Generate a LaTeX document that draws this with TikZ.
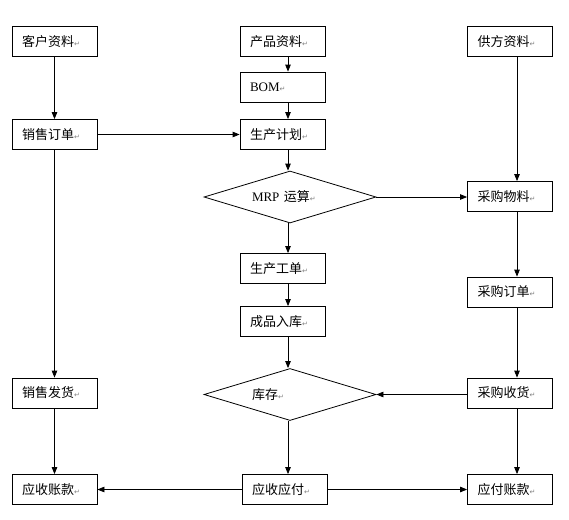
\documentclass[tikz,border=0pt]{standalone}
\usepackage{fontspec}
\setmainfont{Liberation Serif}
\newfontfamily\cjk{Noto Sans CJK SC}
\newfontfamily\symfont{DejaVu Sans}
\usetikzlibrary{arrows.meta,shapes.geometric}
\newcommand\ret{{\symfont\fontsize{7}{7}\selectfont\color{gray}↵}}
\tikzset{
  box/.style={draw, line width=0.8pt, minimum height=30pt, text width=65pt,
    inner xsep=10pt, inner ysep=0pt, align=left,
    font=\cjk\fontsize{13}{15}\selectfont},
  diam/.style={draw, diamond, line width=0.8pt, shape aspect=3.3,
    minimum width=172pt, minimum height=52pt, inner sep=0pt,
    text width=76pt, align=left, font=\cjk\fontsize{13}{15}\selectfont},
  flow/.style={->, line width=0.8pt}
}
\begin{document}
\begin{tikzpicture}[x=1pt,y=-1pt,>={Triangle[length=7pt,width=5.5pt]}]
\useasboundingbox[fill=white] (0,0) rectangle (569,519);
% left column
\node[box] (cust) at (54.5,41.5) {客户资料\ret};
\node[box] (sorder) at (54.5,134.5) {销售订单\ret};
\node[box] (sship) at (54.5,393) {销售发货\ret};
\node[box] (arec) at (54.5,489.5) {应收账款\ret};
% middle column
\node[box] (prod) at (282.5,41.5) {产品资料\ret};
\node[box] (bom) at (282.5,87) {{\rmfamily BOM}\ret};
\node[box] (plan) at (282.5,134.5) {生产计划\ret};
\node[diam] (mrp) at (290,197) {{\rmfamily MRP} 运算\ret};
\node[box] (wo) at (282.5,268.5) {生产工单\ret};
\node[box] (fin) at (282.5,321.5) {成品入库\ret};
\node[diam] (stock) at (290,394.5) {库存\ret};
\node[box] (arap) at (284.5,489.5) {应收应付\ret};
% right column
\node[box] (supp) at (510,41.5) {供方资料\ret};
\node[box] (pmat) at (510,196.5) {采购物料\ret};
\node[box] (porder) at (510,292) {采购订单\ret};
\node[box] (precv) at (510,393) {采购收货\ret};
\node[box] (apay) at (510,489.5) {应付账款\ret};
\coordinate (cx) at (288,0);
\coordinate (rx) at (517,0);
% connectors
\draw[flow] (cust) -- (sorder);
\draw[flow] (sorder) -- (sship);
\draw[flow] (sship) -- (arec);
\draw[flow] (sorder) -- (plan);
\draw[flow] (prod.south -| cx) -- (bom.north -| cx);
\draw[flow] (bom.south -| cx) -- (plan.north -| cx);
\draw[flow] (plan.south -| cx) -- (mrp.north -| cx);
\draw[flow] (mrp.south -| cx) -- (wo.north -| cx);
\draw[flow] (wo.south -| cx) -- (fin.north -| cx);
\draw[flow] (fin.south -| cx) -- (stock.north -| cx);
\draw[flow] (stock.south -| cx) -- (arap.north -| cx);
\draw[flow] (mrp.east) -- (pmat.west |- mrp.east);
\draw[flow] (supp.south -| rx) -- (pmat.north -| rx);
\draw[flow] (pmat.south -| rx) -- (porder.north -| rx);
\draw[flow] (porder.south -| rx) -- (precv.north -| rx);
\draw[flow] (precv.south -| rx) -- (apay.north -| rx);
\draw[flow] (precv.west |- stock.east) -- (stock.east);
\draw[flow] (arap) -- (arec);
\draw[flow] (arap) -- (apay);
\end{tikzpicture}
\end{document}
